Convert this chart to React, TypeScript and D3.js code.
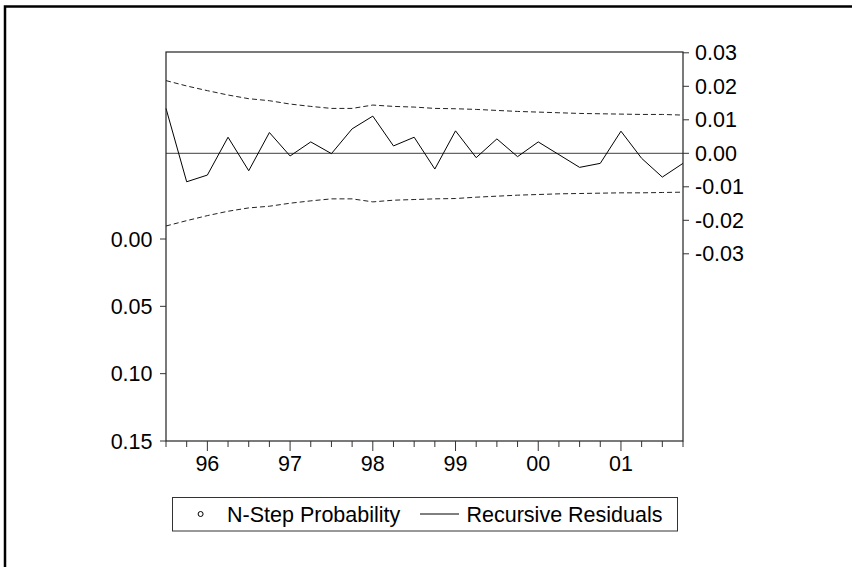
import { useEffect, useRef } from 'react';
import * as d3 from 'd3';

// quarterly observations 1995Q3 .. 2001Q4
const quarters = [
  '1995Q3', '1995Q4',
  '1996Q1', '1996Q2', '1996Q3', '1996Q4',
  '1997Q1', '1997Q2', '1997Q3', '1997Q4',
  '1998Q1', '1998Q2', '1998Q3', '1998Q4',
  '1999Q1', '1999Q2', '1999Q3', '1999Q4',
  '2000Q1', '2000Q2', '2000Q3', '2000Q4',
  '2001Q1', '2001Q2', '2001Q3', '2001Q4',
];

const residuals = [
  0.0134, -0.0085, -0.0065, 0.0048, -0.0052, 0.0062, -0.0008, 0.0034, -0.0001,
  0.0073, 0.0111, 0.0022, 0.0048, -0.0047, 0.0067, -0.0013, 0.0043, -0.001,
  0.0034, -0.0004, -0.0042, -0.003, 0.0066, -0.0015, -0.0071, -0.003,
];

const upperBand = [
  0.0217, 0.0201, 0.0187, 0.0174, 0.0163, 0.0157, 0.0147, 0.014, 0.0134,
  0.0134, 0.0144, 0.014, 0.0138, 0.0134, 0.0133, 0.0131, 0.0128, 0.0125,
  0.0123, 0.0121, 0.0119, 0.0118, 0.0117, 0.0116, 0.0116, 0.0114,
];

const lowerBand = [
  -0.0217, -0.0201, -0.0186, -0.0173, -0.0163, -0.0158, -0.0149, -0.0142, -0.0136,
  -0.0136, -0.0145, -0.014, -0.0138, -0.0136, -0.0135, -0.0131, -0.0128, -0.0125,
  -0.0123, -0.0121, -0.012, -0.0119, -0.0118, -0.0118, -0.0117, -0.0116,
];

// no N-step probability falls below 0.15, so nothing is plotted
const probPoints: { q: string; p: number }[] = [];

const leftTicks = [0, 0.05, 0.1, 0.15];
const rightTicks = [-0.03, -0.02, -0.01, 0, 0.01, 0.02, 0.03];
const yearLabels = ['96', '97', '98', '99', '00', '01'];

const FONT = '"Liberation Sans", Arial, sans-serif';
const FS = 21.5;

// plain hyphen instead of d3's unicode minus
const fmt = (v: number) => d3.format('.2f')(v).replace('\u2212', '-');

const App = () => {
  const svgRef = useRef<SVGSVGElement>(null);

  useEffect(() => {
    const svg = d3.select(svgRef.current);
    svg.selectAll('*').remove();

    const left = 166, right = 683, top = 52, bottom = 441;

    const x = d3.scalePoint<string>().domain(quarters).range([left, right]);
    const yR = d3.scaleLinear().domain([-0.03, 0.03]).range([253.8, 52.8]);
    const yL = d3.scaleLinear().domain([0, 0.15]).range([239, bottom]);

    // outer frame (cut off at right/bottom)
    svg.append('rect')
      .attr('x', 5).attr('y', 6.5)
      .attr('width', 900).attr('height', 600)
      .attr('fill', 'none').attr('stroke', '#000').attr('stroke-width', 2.5);

    // zero line
    svg.append('line')
      .attr('x1', left).attr('x2', right)
      .attr('y1', yR(0)).attr('y2', yR(0))
      .attr('stroke', '#666').attr('stroke-width', 1.3);

    // bands
    const line = d3.line<number>()
      .x((_, i) => x(quarters[i])!)
      .y(d => yR(d));

    [upperBand, lowerBand].forEach(b => {
      svg.append('path')
        .attr('d', line(b))
        .attr('fill', 'none')
        .attr('stroke', '#222')
        .attr('stroke-width', 1)
        .attr('stroke-dasharray', '5,3');
    });

    svg.append('path')
      .attr('d', line(residuals))
      .attr('fill', 'none')
      .attr('stroke', '#000')
      .attr('stroke-width', 1);

    probPoints.forEach(d => {
      svg.append('circle')
        .attr('cx', x(d.q)!).attr('cy', yL(d.p)).attr('r', 2.5)
        .attr('fill', 'none').attr('stroke', '#000');
    });

    // plot frame
    svg.append('rect')
      .attr('x', left).attr('y', top)
      .attr('width', right - left).attr('height', bottom - top)
      .attr('fill', 'none').attr('stroke', '#222').attr('stroke-width', 1.2);

    // left axis
    const gL = svg.append('g');
    leftTicks.forEach(t => {
      gL.append('line')
        .attr('x1', left - 6).attr('x2', left)
        .attr('y1', yL(t)).attr('y2', yL(t))
        .attr('stroke', '#333');
      gL.append('text')
        .attr('x', 152.5).attr('y', yL(t)).attr('dy', '0.35em')
        .attr('text-anchor', 'end')
        .text(fmt(t));
    });

    // right axis
    const gR = svg.append('g');
    rightTicks.forEach(t => {
      gR.append('line')
        .attr('x1', right).attr('x2', right + 6)
        .attr('y1', yR(t)).attr('y2', yR(t))
        .attr('stroke', '#333');
      gR.append('text')
        .attr('x', 695).attr('y', yR(t)).attr('dy', '0.35em')
        .attr('text-anchor', 'start')
        .text(fmt(t));
    });

    // bottom axis, one tick per quarter, longer on Q1
    const gB = svg.append('g');
    quarters.forEach(q => {
      const major = q.endsWith('Q1');
      gB.append('line')
        .attr('x1', x(q)!).attr('x2', x(q)!)
        .attr('y1', bottom).attr('y2', bottom + (major ? 10 : 6))
        .attr('stroke', '#333');
    });
    quarters.filter(q => q.endsWith('Q1')).forEach((q, i) => {
      gB.append('text')
        .attr('x', x(q)!).attr('y', 471)
        .attr('text-anchor', 'middle')
        .text(yearLabels[i]);
    });

    svg.selectAll('text')
      .attr('font-family', FONT)
      .attr('font-size', FS)
      .attr('fill', '#000');

    // legend
    const lg = svg.append('g');
    lg.append('rect')
      .attr('x', 172.5).attr('y', 497.5)
      .attr('width', 505).attr('height', 33.5)
      .attr('fill', 'none').attr('stroke', '#333');
    lg.append('circle')
      .attr('cx', 200.6).attr('cy', 514).attr('r', 2.5)
      .attr('fill', 'none').attr('stroke', '#000');
    lg.append('text')
      .attr('x', 227).attr('y', 514).attr('dy', '0.35em')
      .attr('font-family', FONT).attr('font-size', FS)
      .text('N-Step Probability');
    lg.append('line')
      .attr('x1', 420).attr('x2', 459)
      .attr('y1', 514).attr('y2', 514)
      .attr('stroke', '#000');
    lg.append('text')
      .attr('x', 466.5).attr('y', 514).attr('dy', '0.35em')
      .attr('font-family', FONT).attr('font-size', FS)
      .text('Recursive Residuals');
  }, []);

  return (
    <svg
      ref={svgRef}
      width={852}
      height={567}
      viewBox="0 0 852 567"
      style={{ position: 'absolute', left: 0, top: 0, background: '#fff' }}
    />
  );
};

export default App;
